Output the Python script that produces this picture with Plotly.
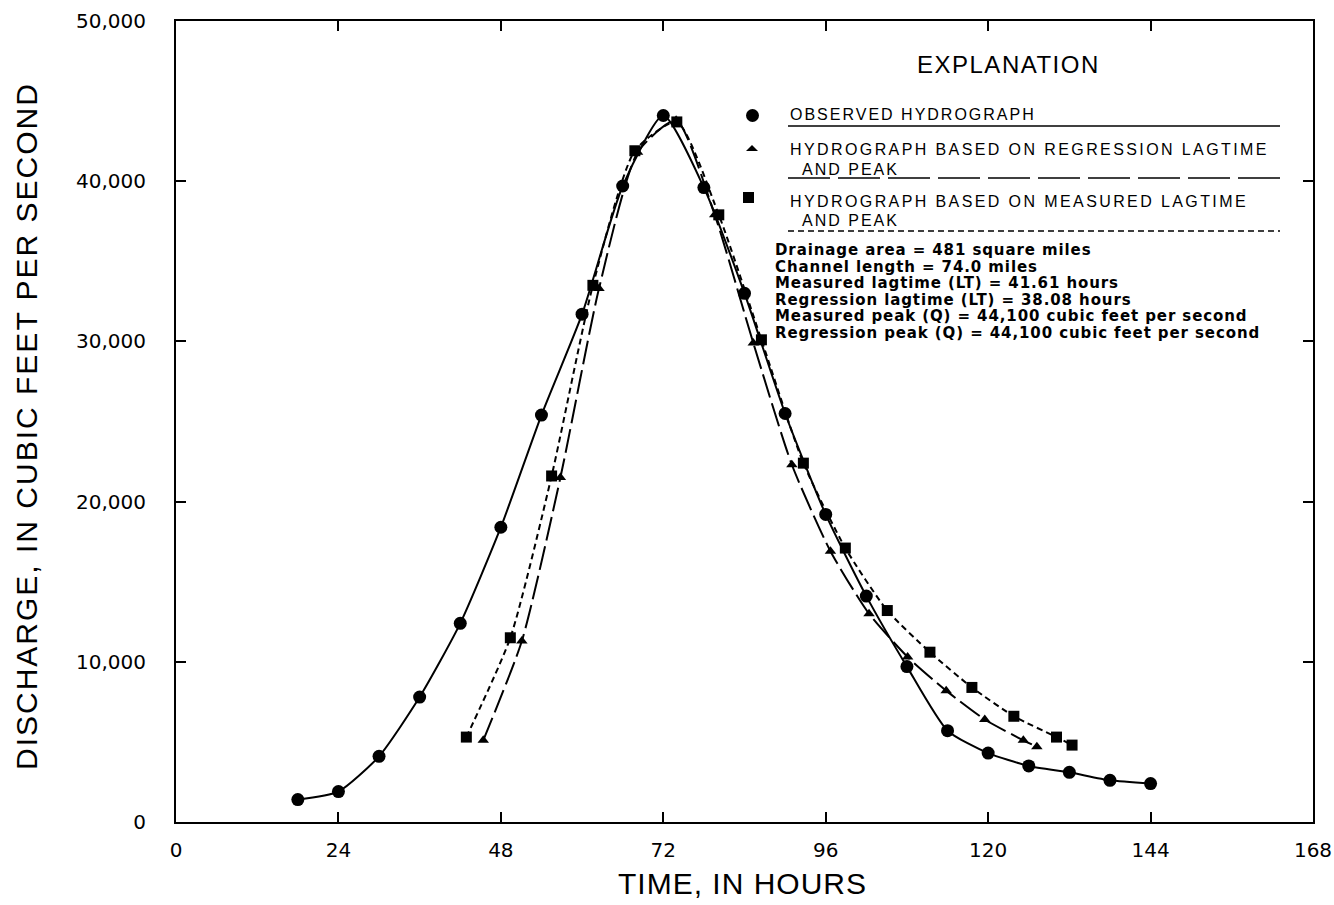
import plotly.graph_objects as go

# ---------------- data ----------------
obs_t = [18, 24, 30, 36, 42, 48, 54, 60, 66, 72, 78, 84, 90, 96, 102, 108, 114, 120, 126, 132, 138, 144]
obs_q = [1400, 1900, 4100, 7800, 12400, 18400, 25400, 31700, 39700, 44100, 39600, 33000,
         25500, 19200, 14100, 9700, 5700, 4300, 3500, 3100, 2600, 2400]

reg_t = [45.4, 51.1, 56.8, 62.5, 68.2, 73.9, 79.6, 85.3, 91.0, 96.7, 102.4, 108.1, 113.8, 119.5, 125.2, 127.2]
reg_q = [5100, 11300, 21500, 33300, 41800, 43800, 37900, 29900, 22300, 16900, 13000, 10300, 8200, 6400, 5100, 4700]

mea_t = [42.9, 49.4, 55.5, 61.6, 67.8, 74.0, 80.2, 86.5, 92.7, 98.9, 105.1, 111.4, 117.6, 123.8, 130.1, 132.4]
mea_q = [5300, 11500, 21600, 33500, 41900, 43700, 37900, 30100, 22400, 17100, 13200, 10600, 8400, 6600, 5300, 4800]

x_ticks = [0, 24, 48, 72, 96, 120, 144, 168]
y_ticks = [0, 10000, 20000, 30000, 40000, 50000]
y_tick_text = ["0", "10,000", "20,000", "30,000", "40,000", "50,000"]

x_title = "TIME, IN HOURS"
y_title = "DISCHARGE, IN CUBIC FEET PER SECOND"

stats_lines = [
    "Drainage area = 481 square miles",
    "Channel length = 74.0 miles",
    "Measured lagtime (LT) = 41.61 hours",
    "Regression lagtime (LT) = 38.08 hours",
    "Measured peak (Q) = 44,100 cubic feet per second",
    "Regression peak (Q) = 44,100 cubic feet per second",
]
legend_labels = [
    "OBSERVED HYDROGRAPH",
    "HYDROGRAPH BASED ON REGRESSION LAGTIME",
    "HYDROGRAPH BASED ON MEASURED LAGTIME",
]

# ---------------- layout geometry ----------------
W, H = 1334, 905
L, R, T, B = 176, 1313, 21, 822


def px(x):
    return (x - L) / (R - L)


def py(y):
    return (B - y) / (B - T)


def spaced(s, sp):
    return f'<span style="letter-spacing:{sp}px">{s}</span>'


fig = go.Figure()

fig.add_trace(go.Scatter(
    x=mea_t, y=mea_q, mode="lines+markers",
    line=dict(color="black", width=2, dash="6px,4px", shape="spline", smoothing=0.6),
    marker=dict(symbol="square", size=11, color="black"), showlegend=False))
fig.add_trace(go.Scatter(
    x=reg_t, y=reg_q, mode="lines+markers",
    line=dict(color="black", width=2, dash="24px,6px", shape="spline", smoothing=0.6),
    marker=dict(symbol="triangle-up", size=10, color="black"), showlegend=False))
fig.add_trace(go.Scatter(
    x=obs_t, y=obs_q, mode="lines+markers",
    line=dict(color="black", width=2, shape="spline", smoothing=0.6),
    marker=dict(symbol="circle", size=13, color="black"), showlegend=False))

tick_font = dict(family="DejaVu Sans, sans-serif", size=20, color="black")
title_font = dict(family="Liberation Sans, Arial, sans-serif", size=30, color="black")

fig.update_xaxes(range=[0, 168], tickvals=x_ticks, ticks="inside", ticklen=10, tickwidth=1.5,
                 tickcolor="black", showline=True, linecolor="black", linewidth=2, mirror="ticks",
                 showgrid=False, zeroline=False, tickfont=tick_font, ticklabelstandoff=9)
fig.update_yaxes(range=[0, 50000], tickvals=y_ticks, ticktext=y_tick_text, ticks="inside", ticklen=10,
                 tickwidth=1.5, tickcolor="black", showline=True, linecolor="black", linewidth=2,
                 mirror="ticks", showgrid=False, zeroline=False, tickfont=tick_font, ticklabelstandoff=24)

ann = []
shapes = []

# axis titles
ann.append(dict(x=px(742), y=py(883), xref="paper", yref="paper", text=spaced(x_title, 1),
                showarrow=False, xanchor="center", yanchor="middle", font=title_font))
ann.append(dict(x=px(26), y=py(426), xref="paper", yref="paper", text=spaced(y_title, 2),
                showarrow=False, xanchor="center", yanchor="middle", textangle=-90, font=title_font))

leg_font = dict(family="Liberation Sans, Arial, sans-serif", size=16, color="black")

ann.append(dict(x=px(1008), y=py(64), xref="paper", yref="paper", text=spaced("EXPLANATION", 1.5),
                showarrow=False, xanchor="center", yanchor="middle",
                font=dict(family="Liberation Sans, Arial, sans-serif", size=24, color="black")))

# legend entry 1
ann.append(dict(x=px(788), y=py(115), xref="paper", yref="paper", text=spaced(legend_labels[0], 2),
                showarrow=False, xanchor="left", yanchor="middle", font=leg_font))
shapes.append(dict(type="line", xref="paper", yref="paper", x0=px(788), x1=px(1280),
                   y0=py(126), y1=py(126), line=dict(color="black", width=1.5)))
shapes.append(dict(type="circle", xref="paper", yref="paper", x0=px(746), x1=px(759),
                   y0=py(109), y1=py(122), fillcolor="black", line=dict(color="black", width=0)))

# legend entry 2
ann.append(dict(x=px(788), y=py(150), xref="paper", yref="paper", text=spaced(legend_labels[1], 2.4),
                showarrow=False, xanchor="left", yanchor="middle", font=leg_font))
ann.append(dict(x=px(800), y=py(169), xref="paper", yref="paper", text=spaced("AND PEAK", 2),
                showarrow=False, xanchor="left", yanchor="middle", font=leg_font))
shapes.append(dict(type="line", xref="paper", yref="paper", x0=px(788), x1=px(1280),
                   y0=py(178), y1=py(178), line=dict(color="black", width=1.5, dash="42px,8px")))
shapes.append(dict(type="path", xref="paper", yref="paper",
                   path=f"M {px(746)} {py(151)} L {px(758)} {py(151)} L {px(752)} {py(145)} Z",
                   fillcolor="black", line=dict(color="black", width=0)))

# legend entry 3
ann.append(dict(x=px(788), y=py(201), xref="paper", yref="paper", text=spaced(legend_labels[2], 2.4),
                showarrow=False, xanchor="left", yanchor="middle", font=leg_font))
ann.append(dict(x=px(800), y=py(220), xref="paper", yref="paper", text=spaced("AND PEAK", 2),
                showarrow=False, xanchor="left", yanchor="middle", font=leg_font))
shapes.append(dict(type="line", xref="paper", yref="paper", x0=px(788), x1=px(1280),
                   y0=py(231), y1=py(231), line=dict(color="black", width=1.5, dash="6px,4px")))
shapes.append(dict(type="rect", xref="paper", yref="paper", x0=px(743), x1=px(754),
                   y0=py(192), y1=py(203), fillcolor="black", line=dict(color="black", width=0)))

# stats block
stat_font = dict(family="DejaVu Sans, sans-serif", size=15, color="black", weight="bold")
for i, s in enumerate(stats_lines):
    ann.append(dict(x=px(773), y=py(250 + i * 16.6), xref="paper", yref="paper", text=spaced(s, 0.9),
                    showarrow=False, xanchor="left", yanchor="middle", font=stat_font))

fig.update_layout(width=W, height=H, margin=dict(l=L, r=W - R, t=T, b=H - B, autoexpand=False),
                  paper_bgcolor="white", plot_bgcolor="white", annotations=ann, shapes=shapes,
                  showlegend=False)

fig.write_html("out.html")
